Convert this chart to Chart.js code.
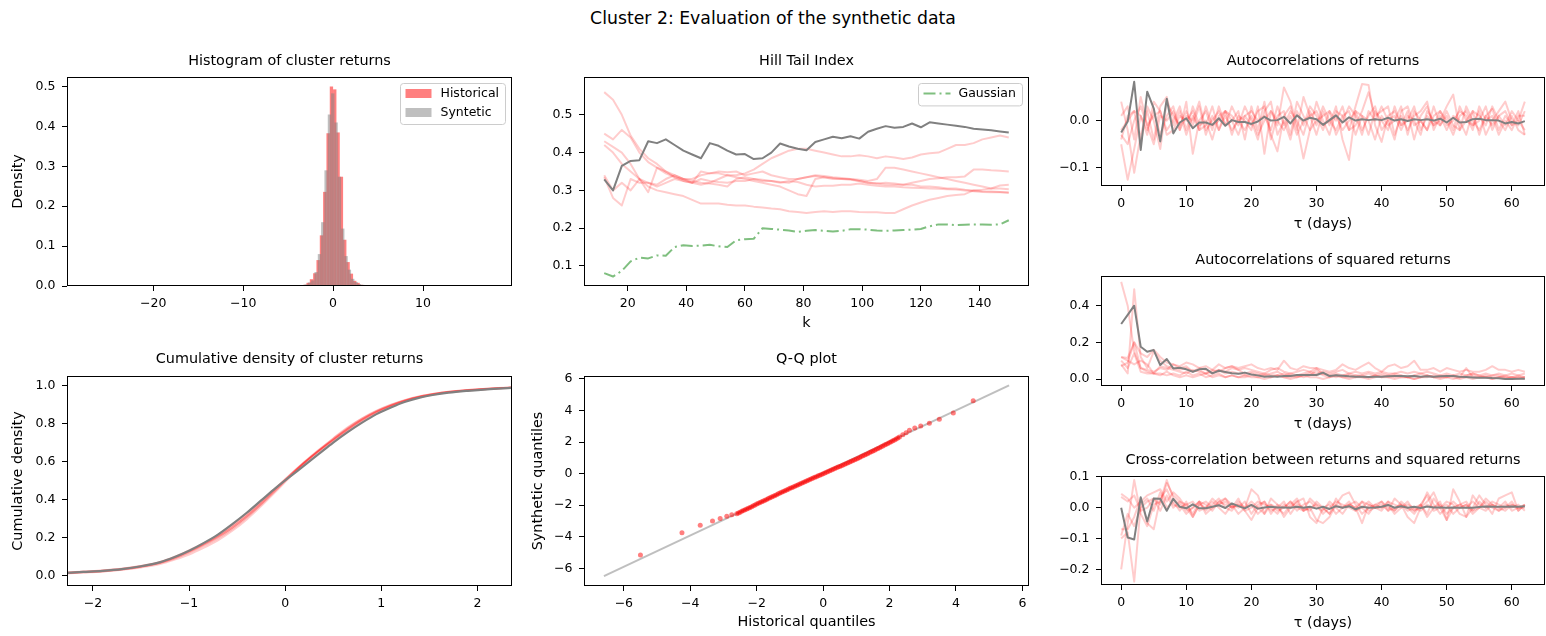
<!DOCTYPE html>
<html lang="en">
<head>
<meta charset="UTF-8">
<title>Cluster 2: Evaluation of the synthetic data</title>
<script src="https://cdn.jsdelivr.net/npm/chart.js@4.4.1/dist/chart.umd.min.js"></script>
<style>
  body { margin: 0; background: #fff; width: 1546px; height: 636px; position: relative; overflow: hidden; font-family: "DejaVu Sans", sans-serif; }
  .suptitle { position: absolute; left: 0; top: 8px; width: 1546px; text-align: center; font-size: 17.3px; color: #000; }
  canvas { position: absolute; }
</style>
</head>
<body>
<div class="suptitle">Cluster 2: Evaluation of the synthetic data</div>
<canvas id="hist"></canvas>
<canvas id="hill"></canvas>
<canvas id="acf"></canvas>
<canvas id="acf2"></canvas>
<canvas id="xcf"></canvas>
<canvas id="cdf"></canvas>
<canvas id="qq"></canvas>
<script>
// ---- histogram of cluster returns ----
const histCentersReal = [-3.148, -2.778, -2.407, -2.037, -1.667, -1.296, -0.926, -0.556, -0.185, 0.185, 0.556, 0.926, 1.296, 1.667, 2.037, 2.407, 2.778, 3.148, 3.519];
const histDensityReal = [0.003, 0.008, 0.017, 0.032, 0.065, 0.127, 0.236, 0.383, 0.500, 0.493, 0.385, 0.274, 0.116, 0.060, 0.031, 0.013, 0.008, 0.003, 0.002];
const histCentersSynth = [-3.0, -2.63, -2.259, -1.889, -1.519, -1.148, -0.778, -0.407, -0.037, 0.333, 0.704, 1.074, 1.444, 1.815, 2.185, 2.556, 2.926, 3.296];
const histDensitySynth = [0.004, 0.009, 0.014, 0.035, 0.080, 0.160, 0.290, 0.430, 0.483, 0.410, 0.274, 0.144, 0.075, 0.041, 0.018, 0.010, 0.005, 0.003];

// ---- Hill tail index ----
const kGrid = [12, 15, 18, 21, 24, 27, 30, 33, 36, 39, 42, 45, 48, 51, 54, 57, 60, 63, 66, 69, 72, 75, 78, 81, 84, 87, 90, 93, 96, 99, 102, 105, 108, 111, 114, 117, 120, 123, 126, 129, 132, 135, 138, 141, 144, 147, 150];
const hillSynth = [0.329, 0.300, 0.365, 0.378, 0.380, 0.430, 0.425, 0.435, 0.420, 0.405, 0.395, 0.385, 0.425, 0.418, 0.405, 0.395, 0.396, 0.383, 0.385, 0.400, 0.424, 0.416, 0.410, 0.406, 0.428, 0.435, 0.442, 0.438, 0.443, 0.437, 0.455, 0.463, 0.470, 0.466, 0.468, 0.477, 0.467, 0.480, 0.477, 0.474, 0.471, 0.468, 0.463, 0.461, 0.459, 0.456, 0.453];
const hillGauss = [0.081, 0.072, 0.087, 0.112, 0.122, 0.120, 0.128, 0.127, 0.150, 0.155, 0.153, 0.154, 0.156, 0.152, 0.150, 0.168, 0.171, 0.172, 0.200, 0.198, 0.196, 0.194, 0.190, 0.193, 0.195, 0.193, 0.191, 0.193, 0.197, 0.197, 0.196, 0.194, 0.193, 0.194, 0.195, 0.196, 0.198, 0.205, 0.210, 0.210, 0.208, 0.209, 0.210, 0.210, 0.209, 0.210, 0.221];
const hillHist = [
  [0.560, 0.540, 0.500, 0.445, 0.410, 0.385, 0.370, 0.350, 0.335, 0.325, 0.320, 0.330, 0.325, 0.322, 0.320, 0.325, 0.325, 0.330, 0.328, 0.325, 0.320, 0.325, 0.322, 0.315, 0.310, 0.312, 0.312, 0.315, 0.315, 0.318, 0.315, 0.312, 0.310, 0.310, 0.308, 0.307, 0.306, 0.305, 0.304, 0.303, 0.302, 0.300, 0.298, 0.296, 0.295, 0.295, 0.293],
  [0.450, 0.435, 0.460, 0.440, 0.400, 0.375, 0.360, 0.345, 0.335, 0.330, 0.330, 0.340, 0.345, 0.345, 0.340, 0.340, 0.345, 0.355, 0.370, 0.385, 0.395, 0.405, 0.410, 0.410, 0.405, 0.400, 0.395, 0.390, 0.390, 0.393, 0.390, 0.385, 0.390, 0.387, 0.383, 0.387, 0.395, 0.398, 0.400, 0.410, 0.420, 0.420, 0.425, 0.435, 0.440, 0.445, 0.440],
  [0.430, 0.415, 0.400, 0.370, 0.330, 0.295, 0.360, 0.350, 0.340, 0.330, 0.325, 0.320, 0.318, 0.315, 0.310, 0.330, 0.335, 0.330, 0.325, 0.325, 0.322, 0.320, 0.330, 0.335, 0.338, 0.335, 0.333, 0.330, 0.330, 0.325, 0.320, 0.318, 0.320, 0.318, 0.315, 0.315, 0.310, 0.310, 0.308, 0.305, 0.305, 0.302, 0.300, 0.298, 0.297, 0.296, 0.295],
  [0.420, 0.400, 0.370, 0.350, 0.330, 0.310, 0.300, 0.295, 0.290, 0.285, 0.275, 0.265, 0.265, 0.265, 0.262, 0.260, 0.260, 0.257, 0.255, 0.252, 0.250, 0.245, 0.243, 0.240, 0.243, 0.245, 0.243, 0.245, 0.245, 0.243, 0.242, 0.242, 0.240, 0.240, 0.250, 0.260, 0.268, 0.275, 0.280, 0.285, 0.288, 0.290, 0.300, 0.302, 0.305, 0.313, 0.315],
  [0.335, 0.280, 0.260, 0.330, 0.320, 0.320, 0.315, 0.330, 0.340, 0.330, 0.320, 0.350, 0.345, 0.350, 0.348, 0.350, 0.340, 0.345, 0.350, 0.340, 0.335, 0.330, 0.330, 0.335, 0.340, 0.338, 0.335, 0.333, 0.330, 0.328, 0.325, 0.330, 0.360, 0.360, 0.355, 0.350, 0.345, 0.340, 0.335, 0.330, 0.325, 0.320, 0.315, 0.310, 0.305, 0.305, 0.303],
  [0.340, 0.300, 0.320, 0.300, 0.330, 0.320, 0.310, 0.320, 0.330, 0.325, 0.320, 0.315, 0.320, 0.330, 0.340, 0.335, 0.330, 0.325, 0.320, 0.315, 0.310, 0.300, 0.290, 0.285, 0.330, 0.335, 0.330, 0.330, 0.328, 0.325, 0.320, 0.318, 0.315, 0.315, 0.315, 0.320, 0.325, 0.330, 0.332, 0.335, 0.335, 0.337, 0.355, 0.355, 0.353, 0.352, 0.350]
];

// ---- autocorrelations (lags 0..62) ----
const lags = Array.from({ length: 63 }, (_, i) => i);
const acfSynth = [-0.025, -0.002, 0.082, -0.062, 0.061, 0.026, -0.044, 0.046, -0.027, -0.004,
  0.005, -0.016, -0.004, -0.004, -0.009, 0.005, -0.011, 0.001, -0.003, -0.003,
  -0.007, -0.002, 0.008, 0.000, 0.001, 0.008, -0.006, 0.011, 0.000, 0.006,
  0.003, -0.009, 0.001, 0.011, -0.004, 0.007, 0.000, 0.003, 0.001, 0.003,
  0.001, 0.006, 0.000, 0.003, -0.001, 0.003, 0.001, 0.003, 0.000, 0.004,
  -0.004, 0.006, -0.004, -0.003, 0.003, 0.004, 0.001, 0.001, 0.000, -0.006,
  -0.003, -0.006, -0.001];
const acfHist = [
  [0.040, -0.020, -0.110, -0.030, 0.020, -0.040, 0.030, 0.050, -0.010, 0.020,
   -0.030, 0.010, -0.020, 0.030, -0.010, 0.000, 0.020, -0.030, 0.010, 0.000,
   -0.020, 0.030, -0.070, 0.020, -0.010, 0.070, 0.040, -0.010, -0.080, -0.020,
   0.040, 0.000, -0.030, 0.020, 0.010, -0.020, 0.030, 0.077, 0.075, -0.010,
   -0.045, 0.010, 0.020, -0.010, 0.000, 0.030, -0.020, 0.010, -0.010, 0.020,
   0.000, -0.030, 0.010, 0.020, -0.010, 0.000, 0.030, -0.020, 0.010, -0.010,
   0.020, 0.000, 0.040],
  [-0.050, -0.125, -0.060, 0.010, -0.020, 0.020, -0.030, 0.010, 0.030, -0.020,
   0.040, -0.070, 0.000, 0.020, -0.020, 0.030, -0.010, 0.000, 0.020, -0.040,
   0.030, -0.020, 0.040, -0.030, -0.065, 0.010, 0.030, -0.020, 0.050, 0.010,
   -0.030, 0.020, -0.010, 0.030, -0.040, -0.083, 0.020, 0.010, -0.030, 0.020,
   0.000, -0.020, 0.030, -0.010, 0.020, -0.040, 0.010, 0.030, -0.010, 0.000,
   0.030, 0.055, -0.020, 0.000, 0.020, -0.030, 0.010, 0.025, -0.020, 0.010,
   -0.010, 0.020, -0.030],
  [-0.040, 0.010, 0.020, -0.050, 0.030, 0.000, -0.060, 0.040, 0.010, -0.010,
   0.020, -0.010, 0.030, -0.030, 0.010, -0.020, 0.020, 0.010, -0.010, 0.030,
   0.000, -0.040, 0.020, 0.040, -0.030, 0.000, -0.040, 0.020, -0.010, 0.030,
   0.010, -0.020, 0.020, 0.000, 0.030, -0.020, -0.010, 0.020, 0.060, 0.010,
   0.020, 0.030, -0.030, 0.010, -0.020, 0.010, 0.020, 0.040, -0.020, 0.010,
   -0.020, 0.010, 0.000, -0.030, 0.020, 0.010, -0.010, 0.030, 0.000, -0.020,
   0.010, -0.020, -0.030],
  [-0.020, 0.000, 0.020, 0.010, -0.030, 0.040, 0.020, -0.030, -0.020, 0.010,
   0.000, 0.020, -0.020, -0.010, 0.030, -0.020, 0.010, -0.020, 0.000, 0.010,
   0.020, 0.000, 0.010, -0.020, 0.030, -0.010, 0.020, 0.000, -0.030, 0.020,
   -0.010, 0.030, 0.000, -0.020, 0.010, 0.020, -0.030, 0.010, 0.000, -0.040,
   0.010, -0.010, 0.000, 0.030, -0.030, 0.020, 0.000, -0.020, 0.010, 0.020,
   -0.010, 0.000, 0.020, 0.010, -0.020, 0.030, 0.000, 0.010, -0.030, 0.000,
   -0.020, 0.010, 0.010],
  [0.010, 0.030, -0.040, 0.050, -0.010, 0.010, 0.020, -0.020, 0.000, 0.030,
   -0.020, 0.030, -0.010, 0.000, -0.040, 0.010, 0.020, 0.000, -0.030, 0.010,
   -0.010, 0.020, 0.030, -0.040, 0.010, 0.020, -0.030, 0.040, 0.010, -0.020,
   0.000, 0.010, 0.020, -0.030, 0.000, 0.030, 0.010, -0.030, 0.020, 0.000,
   0.030, 0.000, -0.040, 0.020, 0.030, -0.010, 0.000, -0.020, 0.030, -0.010,
   0.010, -0.020, 0.030, 0.000, -0.010, 0.020, -0.030, 0.000, 0.020, 0.040,
   0.000, -0.010, 0.020],
  [-0.030, -0.050, 0.000, 0.030, -0.010, -0.050, 0.010, 0.000, 0.020, -0.020,
   0.010, 0.000, 0.040, -0.020, 0.000, 0.020, -0.010, 0.030, 0.000, -0.020,
   0.010, -0.030, 0.000, 0.020, 0.000, -0.020, 0.010, -0.030, 0.000, 0.010,
   0.020, -0.010, 0.000, 0.010, -0.020, 0.000, 0.020, -0.020, 0.010, 0.030,
   -0.020, 0.000, 0.010, -0.020, 0.010, 0.000, -0.030, 0.020, 0.000, -0.010,
   0.020, -0.010, -0.020, 0.030, 0.000, -0.020, 0.010, -0.010, 0.010, 0.020,
   -0.010, 0.000, -0.020]
];

const acf2Synth = [0.300, 0.350, 0.400, 0.176, 0.149, 0.158, 0.076, 0.109, 0.058, 0.062,
  0.053, 0.040, 0.053, 0.056, 0.031, 0.045, 0.038, 0.031, 0.029, 0.035,
  0.025, 0.020, 0.013, 0.015, 0.013, 0.016, 0.016, 0.022, 0.022, 0.022,
  0.022, 0.035, 0.016, 0.020, 0.018, 0.015, 0.013, 0.013, 0.011, 0.013,
  0.013, 0.015, 0.016, 0.016, 0.015, 0.016, 0.013, 0.015, 0.013, 0.015,
  0.016, 0.016, 0.013, 0.011, 0.009, 0.007, 0.007, 0.005, 0.004, 0.000,
  0.000, 0.002, 0.002];
const acf2Hist = [
  [0.530, 0.400, 0.150, 0.060, 0.040, 0.030, 0.030, 0.020, 0.030, 0.020,
   0.040, 0.020, 0.030, 0.010, 0.020, 0.030, 0.010, 0.020, 0.010, 0.020,
   0.010, 0.010, 0.020, 0.010, 0.020, 0.010, 0.010, 0.020, 0.010, 0.020,
   0.050, 0.020, 0.010, 0.020, 0.010, 0.010, 0.020, 0.010, 0.010, 0.020,
   0.010, 0.010, 0.020, 0.010, 0.010, 0.020, 0.010, 0.010, 0.020, 0.010,
   0.010, 0.020, 0.010, 0.060, 0.010, 0.010, 0.020, 0.010, 0.010, 0.020,
   0.010, 0.010, 0.010],
  [0.080, 0.030, 0.490, 0.120, 0.060, 0.150, 0.100, 0.070, 0.060, 0.050,
   0.060, 0.040, 0.050, 0.030, 0.040, 0.050, 0.030, 0.040, 0.030, 0.020,
   0.030, 0.020, 0.030, 0.020, 0.020, 0.030, 0.020, 0.010, 0.020, 0.030,
   0.020, 0.030, 0.020, 0.010, 0.020, 0.020, 0.010, 0.020, 0.010, 0.020,
   0.010, 0.020, 0.010, 0.020, 0.010, 0.000, 0.010, 0.020, 0.010, 0.010,
   0.020, 0.010, 0.000, 0.010, 0.020, 0.010, 0.010, 0.000, 0.010, 0.010,
   0.000, 0.010, 0.000],
  [0.120, 0.115, 0.200, 0.140, 0.120, 0.160, 0.120, 0.090, 0.080, 0.070,
   0.090, 0.080, 0.060, 0.070, 0.050, 0.080, 0.060, 0.070, 0.060, 0.070,
   0.080, 0.060, 0.050, 0.060, 0.050, 0.100, 0.060, 0.050, 0.070, 0.060,
   0.060, 0.050, 0.040, 0.050, 0.080, 0.060, 0.050, 0.070, 0.090, 0.060,
   0.040, 0.070, 0.080, 0.060, 0.070, 0.100, 0.050, 0.050, 0.060, 0.040,
   0.060, 0.050, 0.040, 0.050, 0.040, 0.040, 0.050, 0.070, 0.050, 0.050,
   0.040, 0.050, 0.040],
  [0.070, 0.090, 0.200, 0.060, 0.050, 0.040, 0.060, 0.050, 0.080, 0.060,
   0.070, 0.040, 0.060, 0.050, 0.030, 0.050, 0.040, 0.060, 0.050, 0.030,
   0.040, 0.030, 0.020, 0.030, 0.040, 0.020, 0.030, 0.020, 0.030, 0.040,
   0.060, 0.030, 0.020, 0.030, 0.020, 0.030, 0.020, 0.020, 0.030, 0.020,
   0.030, 0.020, 0.030, 0.020, 0.010, 0.020, 0.030, 0.020, 0.010, 0.020,
   0.010, 0.020, 0.010, 0.020, 0.030, 0.020, 0.010, 0.020, 0.020, 0.010,
   0.010, 0.020, 0.010],
  [0.100, 0.060, 0.140, 0.040, 0.030, 0.030, 0.020, 0.040, 0.020, 0.010,
   0.020, 0.010, 0.020, 0.030, 0.010, 0.020, 0.010, 0.020, 0.010, 0.010,
   0.020, 0.010, 0.000, 0.010, 0.020, 0.010, 0.000, 0.010, 0.020, 0.010,
   0.010, 0.000, 0.010, 0.020, 0.010, 0.000, 0.010, 0.010, 0.000, 0.010,
   0.020, 0.010, 0.000, 0.010, 0.010, 0.000, 0.010, 0.020, 0.010, 0.000,
   0.010, 0.000, 0.010, 0.010, 0.000, 0.010, 0.010, 0.000, 0.010, 0.000,
   0.010, 0.000, 0.010],
  [0.120, 0.100, 0.080, 0.100, 0.080, 0.030, 0.070, 0.060, 0.050, 0.040,
   0.030, 0.050, 0.040, 0.030, 0.050, 0.040, 0.060, 0.070, 0.050, 0.060,
   0.050, 0.040, 0.030, 0.050, 0.060, 0.040, 0.030, 0.040, 0.050, 0.040,
   0.030, 0.040, 0.030, 0.040, 0.050, 0.030, 0.040, 0.030, 0.040, 0.030,
   0.040, 0.030, 0.030, 0.040, 0.030, 0.040, 0.030, 0.040, 0.030, 0.020,
   0.030, 0.020, 0.030, 0.020, 0.030, 0.020, 0.030, 0.020, 0.030, 0.020,
   0.030, 0.020, 0.030]
];

const xcfSynth = [0.000, -0.097, -0.103, 0.034, -0.045, 0.030, 0.029, -0.010, 0.029, 0.003,
  -0.002, 0.011, -0.002, -0.002, 0.003, 0.008, -0.001, 0.014, 0.005, -0.002,
  0.009, -0.003, 0.001, 0.003, 0.001, 0.001, 0.000, 0.003, 0.000, 0.003,
  -0.003, 0.003, -0.004, 0.005, 0.000, 0.005, -0.005, 0.003, 0.000, 0.001,
  0.003, 0.009, 0.000, 0.005, 0.000, 0.003, -0.001, 0.004, 0.001, 0.001,
  0.000, 0.001, 0.000, 0.000, 0.000, 0.002, 0.004, 0.003, 0.003, 0.003,
  0.004, 0.003, 0.005];
const xcfHist = [
  [-0.200, -0.050, 0.090, -0.020, -0.060, 0.010, 0.020, 0.090, 0.030, 0.010,
   -0.020, 0.000, 0.020, -0.010, 0.010, 0.030, 0.000, -0.010, 0.020, 0.000,
   0.060, 0.040, -0.020, 0.010, 0.000, -0.020, 0.010, 0.030, -0.010, 0.000,
   -0.040, -0.050, -0.030, 0.010, 0.040, 0.050, 0.010, -0.020, 0.000, 0.010,
   0.000, 0.020, -0.010, 0.010, -0.030, -0.050, 0.000, 0.020, 0.050, 0.000,
   -0.040, 0.060, 0.020, -0.030, 0.000, 0.040, 0.010, -0.020, 0.030, 0.040,
   0.050, -0.010, 0.010],
  [-0.100, -0.080, -0.240, 0.010, 0.030, -0.010, 0.050, 0.000, 0.020, -0.010,
   0.020, -0.030, 0.010, 0.000, 0.020, 0.000, -0.020, 0.010, 0.000, 0.020,
   -0.020, 0.010, 0.020, -0.010, 0.000, 0.020, -0.020, 0.010, 0.000, -0.010,
   0.020, 0.000, 0.010, -0.020, 0.000, 0.010, 0.000, -0.050, 0.010, 0.000,
   0.020, -0.010, 0.000, 0.010, -0.010, 0.000, 0.010, -0.020, 0.030, 0.000,
   0.010, -0.020, 0.000, 0.010, -0.010, 0.020, 0.000, 0.010, -0.010, 0.000,
   0.010, 0.000, 0.010],
  [-0.070, -0.070, -0.030, 0.030, -0.050, -0.070, 0.030, 0.060, 0.010, 0.000,
   0.010, -0.020, 0.020, 0.010, -0.010, 0.020, 0.010, 0.000, 0.030, -0.010,
   -0.040, 0.000, 0.020, -0.020, 0.010, 0.000, 0.020, -0.010, 0.010, 0.020,
   0.000, -0.010, 0.020, 0.000, -0.020, 0.010, 0.020, 0.000, -0.020, 0.010,
   0.020, 0.000, -0.010, 0.020, 0.000, -0.010, 0.010, -0.030, 0.000, 0.020,
   -0.040, 0.000, 0.010, 0.020, -0.010, 0.000, 0.020, 0.000, -0.010, 0.010,
   0.000, 0.010, -0.010],
  [0.045, 0.030, 0.000, 0.020, 0.040, 0.050, 0.060, 0.020, 0.050, 0.030,
   0.000, -0.030, 0.010, 0.020, 0.000, 0.020, 0.030, 0.010, -0.020, 0.000,
   0.020, 0.000, -0.020, 0.030, 0.010, -0.030, 0.000, 0.020, 0.030, -0.030,
   -0.050, 0.000, -0.020, 0.010, 0.000, 0.020, -0.010, 0.020, 0.010, 0.000,
   0.010, -0.010, 0.030, 0.010, 0.000, -0.020, 0.010, 0.040, -0.010, 0.000,
   0.020, 0.010, -0.020, -0.030, 0.040, 0.010, 0.000, 0.020, 0.010, 0.000,
   0.020, -0.010, 0.010],
  [0.035, 0.020, 0.040, -0.010, 0.000, 0.030, 0.010, 0.080, 0.040, 0.020,
   0.010, 0.020, -0.010, 0.000, 0.030, 0.010, 0.020, 0.000, 0.010, 0.000,
   0.010, -0.020, 0.000, 0.010, -0.010, 0.000, 0.020, 0.000, -0.010, 0.030,
   0.010, 0.000, -0.020, 0.030, 0.000, 0.010, 0.000, 0.020, -0.010, 0.000,
   -0.010, 0.020, 0.010, 0.000, 0.020, -0.010, 0.000, 0.050, 0.010, -0.020,
   0.000, 0.020, 0.000, 0.010, -0.020, 0.000, 0.030, 0.010, 0.000, 0.020,
   -0.010, 0.000, 0.005],
  [-0.090, -0.020, -0.060, 0.000, 0.020, 0.030, -0.010, 0.040, 0.000, 0.020,
   -0.010, 0.000, 0.020, -0.020, 0.000, 0.010, 0.030, 0.000, 0.010, -0.010,
   0.000, 0.020, 0.010, 0.000, -0.020, 0.010, 0.000, 0.020, -0.010, 0.000,
   0.010, -0.020, 0.000, 0.020, 0.010, 0.000, -0.010, 0.000, 0.020, 0.000,
   0.000, 0.010, -0.020, 0.000, 0.010, 0.000, -0.010, 0.010, 0.000, 0.010,
   -0.020, 0.000, 0.010, 0.000, 0.020, 0.000, -0.010, 0.010, 0.000, -0.010,
   0.010, 0.000, 0.000]
];

// ---- cumulative density ----
const cdfX = [-2.3, -2.1, -1.9, -1.7, -1.5, -1.3, -1.15, -1.0, -0.85, -0.7, -0.55, -0.4, -0.25, -0.1, 0.05, 0.2, 0.35, 0.5, 0.65, 0.8, 0.95, 1.1, 1.25, 1.4, 1.55, 1.7, 1.9, 2.1, 2.35];
const cdfSynth = [0.012, 0.018, 0.024, 0.033, 0.048, 0.070, 0.097, 0.130, 0.170, 0.215, 0.270, 0.330, 0.395, 0.460, 0.520, 0.580, 0.640, 0.700, 0.755, 0.805, 0.850, 0.885, 0.915, 0.937, 0.952, 0.963, 0.973, 0.981, 0.988];
const cdfHist = [
  [0.010, 0.015, 0.021, 0.031, 0.046, 0.067, 0.092, 0.123, 0.160, 0.200, 0.250, 0.310, 0.380, 0.455, 0.528, 0.595, 0.655, 0.712, 0.768, 0.818, 0.860, 0.893, 0.920, 0.940, 0.954, 0.965, 0.975, 0.982, 0.989],
  [0.014, 0.020, 0.026, 0.035, 0.050, 0.071, 0.098, 0.132, 0.168, 0.210, 0.262, 0.322, 0.390, 0.460, 0.530, 0.597, 0.658, 0.715, 0.770, 0.820, 0.862, 0.895, 0.922, 0.942, 0.956, 0.967, 0.976, 0.984, 0.991],
  [0.011, 0.016, 0.021, 0.029, 0.042, 0.060, 0.083, 0.110, 0.145, 0.185, 0.235, 0.295, 0.365, 0.440, 0.518, 0.592, 0.660, 0.722, 0.780, 0.828, 0.868, 0.900, 0.925, 0.944, 0.958, 0.968, 0.977, 0.984, 0.990],
  [0.013, 0.019, 0.025, 0.034, 0.047, 0.068, 0.094, 0.127, 0.165, 0.208, 0.260, 0.320, 0.388, 0.458, 0.527, 0.594, 0.655, 0.710, 0.765, 0.815, 0.857, 0.890, 0.918, 0.940, 0.955, 0.966, 0.976, 0.983, 0.989],
  [0.011, 0.016, 0.022, 0.031, 0.045, 0.065, 0.089, 0.120, 0.155, 0.195, 0.245, 0.305, 0.375, 0.450, 0.526, 0.598, 0.662, 0.720, 0.777, 0.826, 0.866, 0.898, 0.924, 0.943, 0.957, 0.968, 0.977, 0.984, 0.990],
  [0.013, 0.019, 0.026, 0.035, 0.049, 0.070, 0.095, 0.128, 0.165, 0.205, 0.252, 0.310, 0.375, 0.448, 0.522, 0.592, 0.656, 0.716, 0.772, 0.822, 0.864, 0.896, 0.922, 0.942, 0.956, 0.967, 0.976, 0.983, 0.990]
];

// ---- Q-Q plot ----
const qqHistorical = [-5.5, -4.25, -3.7, -3.33, -3.1, -2.9, -2.75,
  -2.6, -2.55, -2.5, -2.45, -2.4, -2.35, -2.3, -2.25, -2.2, -2.15, -2.1,
  -2.05, -2.0, -1.95, -1.9, -1.85, -1.8, -1.75, -1.7, -1.65, -1.6, -1.55, -1.5, -1.45, -1.4, -1.35, -1.3, -1.25, -1.2, -1.15, -1.1, -1.05, -1.0,
  -0.95, -0.9, -0.85, -0.8, -0.75, -0.7, -0.65, -0.6, -0.55, -0.5, -0.45, -0.4, -0.35, -0.3, -0.25, -0.2, -0.15, -0.1, -0.05, 0.0,
  0.05, 0.1, 0.15, 0.2, 0.25, 0.3, 0.35, 0.4, 0.45, 0.5, 0.55, 0.6, 0.65, 0.7, 0.75, 0.8, 0.85, 0.9, 0.95, 1.0,
  1.05, 1.1, 1.15, 1.2, 1.25, 1.3, 1.35, 1.4, 1.45, 1.5, 1.55, 1.6, 1.65, 1.7, 1.75, 1.8, 1.85, 1.9, 1.95, 2.0, 2.05, 2.1, 2.15, 2.2, 2.25, 2.3,
  2.4, 2.5, 2.6, 2.76, 2.94, 3.2, 3.5, 3.92, 4.52];
const qqSynthetic = [-5.15, -3.75, -3.27, -3.0, -2.84, -2.7, -2.6,
  -2.54, -2.49, -2.44, -2.39, -2.34, -2.29, -2.24, -2.19, -2.14, -2.09, -2.04,
  -1.98, -1.93, -1.88, -1.83, -1.78, -1.73, -1.68, -1.63, -1.58, -1.53, -1.48, -1.43, -1.38, -1.33, -1.28, -1.23, -1.18, -1.13, -1.08, -1.03, -0.98, -0.93,
  -0.90, -0.85, -0.80, -0.755, -0.705, -0.655, -0.61, -0.56, -0.515, -0.465, -0.42, -0.375, -0.33, -0.28, -0.235, -0.19, -0.14, -0.095, -0.05, 0.0,
  0.046, 0.093, 0.14, 0.185, 0.232, 0.28, 0.325, 0.37, 0.415, 0.46, 0.505, 0.55, 0.595, 0.64, 0.69, 0.735, 0.785, 0.83, 0.88, 0.93,
  0.98, 1.03, 1.08, 1.13, 1.185, 1.235, 1.285, 1.335, 1.39, 1.44, 1.49, 1.545, 1.595, 1.65, 1.70, 1.755, 1.81, 1.86, 1.915, 1.97, 2.025, 2.08, 2.14, 2.195, 2.255, 2.32,
  2.46, 2.6, 2.75, 2.9, 3.02, 3.19, 3.45, 3.85, 4.62];
const qqLineX = [-6.6, 5.6];
const qqLineY = [-6.5, 5.6];

// ---- tick values and labels ----
const histXTicks = [-20, -10, 0, 10], histXLabels = ['\u221220', '\u221210', '0', '10'];
const histYTicks = [0, 0.1, 0.2, 0.3, 0.4, 0.5], histYLabels = ['0.0', '0.1', '0.2', '0.3', '0.4', '0.5'];
const hillXTicks = [20, 40, 60, 80, 100, 120, 140], hillXLabels = ['20', '40', '60', '80', '100', '120', '140'];
const hillYTicks = [0.1, 0.2, 0.3, 0.4, 0.5], hillYLabels = ['0.1', '0.2', '0.3', '0.4', '0.5'];
const lagTicks = [0, 10, 20, 30, 40, 50, 60], lagLabels = ['0', '10', '20', '30', '40', '50', '60'];
const acfYTicks = [-0.1, 0.0], acfYLabels = ['\u22120.1', '0.0'];
const acf2YTicks = [0.0, 0.2, 0.4], acf2YLabels = ['0.0', '0.2', '0.4'];
const xcfYTicks = [-0.2, -0.1, 0.0, 0.1], xcfYLabels = ['\u22120.2', '\u22120.1', '0.0', '0.1'];
const cdfXTicks = [-2, -1, 0, 1, 2], cdfXLabels = ['\u22122', '\u22121', '0', '1', '2'];
const cdfYTicks = [0, 0.2, 0.4, 0.6, 0.8, 1.0], cdfYLabels = ['0.0', '0.2', '0.4', '0.6', '0.8', '1.0'];
const qqTicks = [-6, -4, -2, 0, 2, 4, 6], qqLabels = ['\u22126', '\u22124', '\u22122', '0', '2', '4', '6'];

// ---------------------------------------------------------------
Chart.defaults.font.family = '"DejaVu Sans", sans-serif';
Chart.defaults.color = '#000';
Chart.defaults.animation = false;

const PINK = 'rgba(255,0,0,0.2)';
const GREY = '#808080';
const TITLE_LH = 14.4 * 1.2;

function pts(xs, ys) { return xs.map((x, i) => ({ x: x, y: ys[i] })); }

// black box around the axes, like matplotlib spines
const framePlugin = {
  id: 'frame',
  afterDatasetsDraw(chart) {
    const { ctx, chartArea: a } = chart;
    ctx.save();
    ctx.strokeStyle = '#000';
    ctx.lineWidth = 1;
    ctx.strokeRect(Math.round(a.left) + 0.5, Math.round(a.top) + 0.5, Math.round(a.right - a.left) - 1, Math.round(a.bottom - a.top) - 1);
    ctx.restore();
  }
};

// legend drawn inside the axes (upper right)
const boxLegend = {
  id: 'boxLegend',
  afterDatasetsDraw(chart, args, o) {
    if (!o || !o.entries) return;
    const { ctx, chartArea: a } = chart;
    const x0 = Math.round(a.right - o.right - o.width) + 0.5;
    const y0 = Math.round(a.top + o.top) + 0.5;
    ctx.save();
    ctx.beginPath();
    ctx.roundRect(x0, y0, o.width, o.height, 3);
    ctx.fillStyle = 'rgba(255,255,255,0.8)';
    ctx.fill();
    ctx.strokeStyle = '#cccccc';
    ctx.lineWidth = 1;
    ctx.stroke();
    ctx.font = '12.5px "DejaVu Sans"';
    ctx.textBaseline = 'middle';
    o.entries.forEach((di, i) => {
      const ds = chart.data.datasets[di];
      const cy = y0 + o.row0 + i * o.rowGap;
      if (o.kind === 'patch') {
        ctx.fillStyle = ds.backgroundColor;
        ctx.fillRect(x0 + 5, cy - 4.5, 26, 9);
      } else {
        ctx.strokeStyle = ds.borderColor;
        ctx.lineWidth = ds.borderWidth;
        ctx.setLineDash(ds.borderDash || []);
        ctx.beginPath();
        ctx.moveTo(x0 + 5, cy);
        ctx.lineTo(x0 + 32, cy);
        ctx.stroke();
        ctx.setLineDash([]);
      }
      ctx.fillStyle = '#000';
      ctx.fillText(ds.label, x0 + 40, cy);
    });
    ctx.restore();
  }
};

function axis(pos, min, max, ticks, labels, size, title, titlePad) {
  return {
    type: 'linear', position: pos, min: min, max: max, offset: false, bounds: 'data',
    border: { display: false },
    grid: { display: true, drawOnChartArea: false, drawTicks: true, tickLength: 5, tickColor: '#000', tickWidth: 1, offset: false },
    ticks: {
      autoSkip: false, maxRotation: 0, includeBounds: false,
      padding: pos === 'left' ? 6.5 : 5,
      font: { size: 12.5 }, color: '#000',
      callback: (v, i) => labels[i]
    },
    afterBuildTicks: s => { s.ticks = ticks.map(v => ({ value: v })); },
    afterFit: s => { if (pos === 'left') s.width = size; else s.height = size; },
    title: title
      ? { display: true, text: title, font: { size: 14.4 }, color: '#000',
          padding: pos === 'left' ? { top: titlePad, bottom: 0 } : { top: 0, bottom: titlePad } }
      : { display: false }
  };
}

function makeChart(id, g, type, datasets, scales, title, legend) {
  const c = document.getElementById(id);
  const w = g.yw + g.pw + g.rp, h = g.th + g.ph + g.xh;
  c.width = w; c.height = h;
  c.style.left = g.left + 'px'; c.style.top = g.top + 'px';
  c.style.width = w + 'px'; c.style.height = h + 'px';
  return new Chart(c, {
    type: type,
    data: { datasets: datasets },
    options: {
      responsive: false, maintainAspectRatio: false, devicePixelRatio: 1, animation: false,
      layout: { padding: { left: 0, top: 0, right: g.rp, bottom: 0 } },
      elements: { point: { radius: 0 }, line: { tension: 0, borderJoinStyle: 'round' } },
      scales: scales,
      plugins: {
        legend: { display: false },
        tooltip: { enabled: false },
        title: {
          display: true, text: title, fullSize: false, color: '#000',
          font: { size: 14.4, weight: 'normal' },
          padding: { top: g.tpt, bottom: g.th - g.tpt - TITLE_LH }
        },
        boxLegend: legend || false
      }
    },
    plugins: [framePlugin, boxLegend]
  });
}

function pinkLines(xs, series) {
  return series.map(ys => ({ data: pts(xs, ys), borderColor: PINK, borderWidth: 2, pointRadius: 0, order: 3 }));
}

// panel geometry (canvas position, y-axis width, title band, plot size, x-axis band)
const G = {
  hist: { left: 0,    top: 40,  yw: 67, th: 37, tpt: 12.2, pw: 445, ph: 209, rp: 10, xh: 54 },
  hill: { left: 520,  top: 40,  yw: 64, th: 37, tpt: 12.2, pw: 445, ph: 209, rp: 10, xh: 54 },
  acf:  { left: 1040, top: 40,  yw: 61, th: 37, tpt: 12.2, pw: 444, ph: 109, rp: 1,  xh: 54 },
  acf2: { left: 1040, top: 240, yw: 61, th: 36, tpt: 11.7, pw: 444, ph: 110, rp: 1,  xh: 54 },
  xcf:  { left: 1040, top: 440, yw: 61, th: 36, tpt: 11.7, pw: 444, ph: 109, rp: 1,  xh: 51 },
  cdf:  { left: 0,    top: 340, yw: 67, th: 36, tpt: 11.0, pw: 445, ph: 210, rp: 10, xh: 50 },
  qq:   { left: 520,  top: 340, yw: 64, th: 36, tpt: 11.0, pw: 445, ph: 210, rp: 10, xh: 50 }
};

// Histogram
makeChart('hist', G.hist, 'bar', [
  { label: 'Syntetic', data: pts(histCentersSynth, histDensitySynth), xAxisID: 'x2', backgroundColor: 'rgba(128,128,128,0.5)',
    borderWidth: 0, barPercentage: 1, categoryPercentage: 1, grouped: false, inflateAmount: 0, order: 0 },
  { label: 'Historical', data: pts(histCentersReal, histDensityReal), xAxisID: 'x', backgroundColor: 'rgba(255,0,0,0.5)',
    borderWidth: 0, barPercentage: 1, categoryPercentage: 1, grouped: false, inflateAmount: 0, order: 1 }
], {
  x: axis('bottom', -29.6, 19.9, histXTicks, histXLabels, 54),
  x2: { type: 'linear', min: -29.6, max: 19.9, display: false, offset: false },
  y: axis('left', 0, 0.524, histYTicks, histYLabels, 67, 'Density', 10)
}, 'Histogram of cluster returns',
{ entries: [1, 0], kind: 'patch', right: 7, top: 6.3, width: 105, height: 41, row0: 10, rowGap: 19 });

// Hill tail index
makeChart('hill', G.hill, 'line',
  [{ label: 'Gaussian', data: pts(kGrid, hillGauss), borderColor: 'rgba(0,128,0,0.5)', borderWidth: 2, borderDash: [12, 4, 2, 4], order: 0 },
   { label: 'Synthetic', data: pts(kGrid, hillSynth), borderColor: GREY, borderWidth: 2, order: 1 }]
    .concat(pinkLines(kGrid, hillHist)),
{
  x: axis('bottom', 5.1, 156.9, hillXTicks, hillXLabels, 54, 'k', 8.1),
  y: axis('left', 0.047, 0.600, hillYTicks, hillYLabels, 64)
}, 'Hill Tail Index',
{ entries: [0], kind: 'line', right: 7, top: 6.3, width: 104, height: 22.4, row0: 10, rowGap: 19 });

// Autocorrelations of returns
makeChart('acf', G.acf, 'line',
  [{ label: 'Synthetic', data: pts(lags, acfSynth), borderColor: GREY, borderWidth: 2, order: 1 }].concat(pinkLines(lags, acfHist)),
{
  x: axis('bottom', -3.1, 65.1, lagTicks, lagLabels, 54, '\u03c4 (days)', 7.4),
  y: axis('left', -0.138, 0.092, acfYTicks, acfYLabels, 61)
}, 'Autocorrelations of returns');

// Autocorrelations of squared returns
makeChart('acf2', G.acf2, 'line',
  [{ label: 'Synthetic', data: pts(lags, acf2Synth), borderColor: GREY, borderWidth: 2, order: 1 }].concat(pinkLines(lags, acf2Hist)),
{
  x: axis('bottom', -3.1, 65.1, lagTicks, lagLabels, 54, '\u03c4 (days)', 7.4),
  y: axis('left', -0.038, 0.562, acf2YTicks, acf2YLabels, 61)
}, 'Autocorrelations of squared returns');

// Cross-correlation
makeChart('xcf', G.xcf, 'line',
  [{ label: 'Synthetic', data: pts(lags, xcfSynth), borderColor: GREY, borderWidth: 2, order: 1 }].concat(pinkLines(lags, xcfHist)),
{
  x: axis('bottom', -3.1, 65.1, lagTicks, lagLabels, 51, '\u03c4 (days)', 4.1),
  y: axis('left', -0.251, 0.103, xcfYTicks, xcfYLabels, 61)
}, 'Cross-correlation between returns and squared returns');

// Cumulative density
makeChart('cdf', G.cdf, 'line',
  [{ label: 'Synthetic', data: pts(cdfX, cdfSynth), borderColor: GREY, borderWidth: 2.2, cubicInterpolationMode: 'monotone', order: 1 }]
    .concat(pinkLines(cdfX, cdfHist).map(d => Object.assign(d, { cubicInterpolationMode: 'monotone' }))),
{
  x: axis('bottom', -2.27, 2.36, cdfXTicks, cdfXLabels, 50),
  y: axis('left', -0.056, 1.051, cdfYTicks, cdfYLabels, 67, 'Cumulative density', 10)
}, 'Cumulative density of cluster returns');

// Q-Q plot
makeChart('qq', G.qq, 'line', [
  { label: 'quantiles', data: pts(qqHistorical, qqSynthetic), showLine: false, pointRadius: 2.5, pointBorderWidth: 0,
    pointBackgroundColor: 'rgba(255,0,0,0.5)', pointBorderColor: 'rgba(0,0,0,0)', order: 0 },
  { label: 'reference', data: pts(qqLineX, qqLineY), borderColor: 'rgba(128,128,128,0.5)', borderWidth: 2, order: 1 }
], {
  x: axis('bottom', -7.2, 6.2, qqTicks, qqLabels, 50, 'Historical quantiles', 4.7),
  y: axis('left', -7.12, 6.19, qqTicks, qqLabels, 64, 'Synthetic quantiles', 9.2)
}, 'Q-Q plot');
</script>
</body>
</html>
